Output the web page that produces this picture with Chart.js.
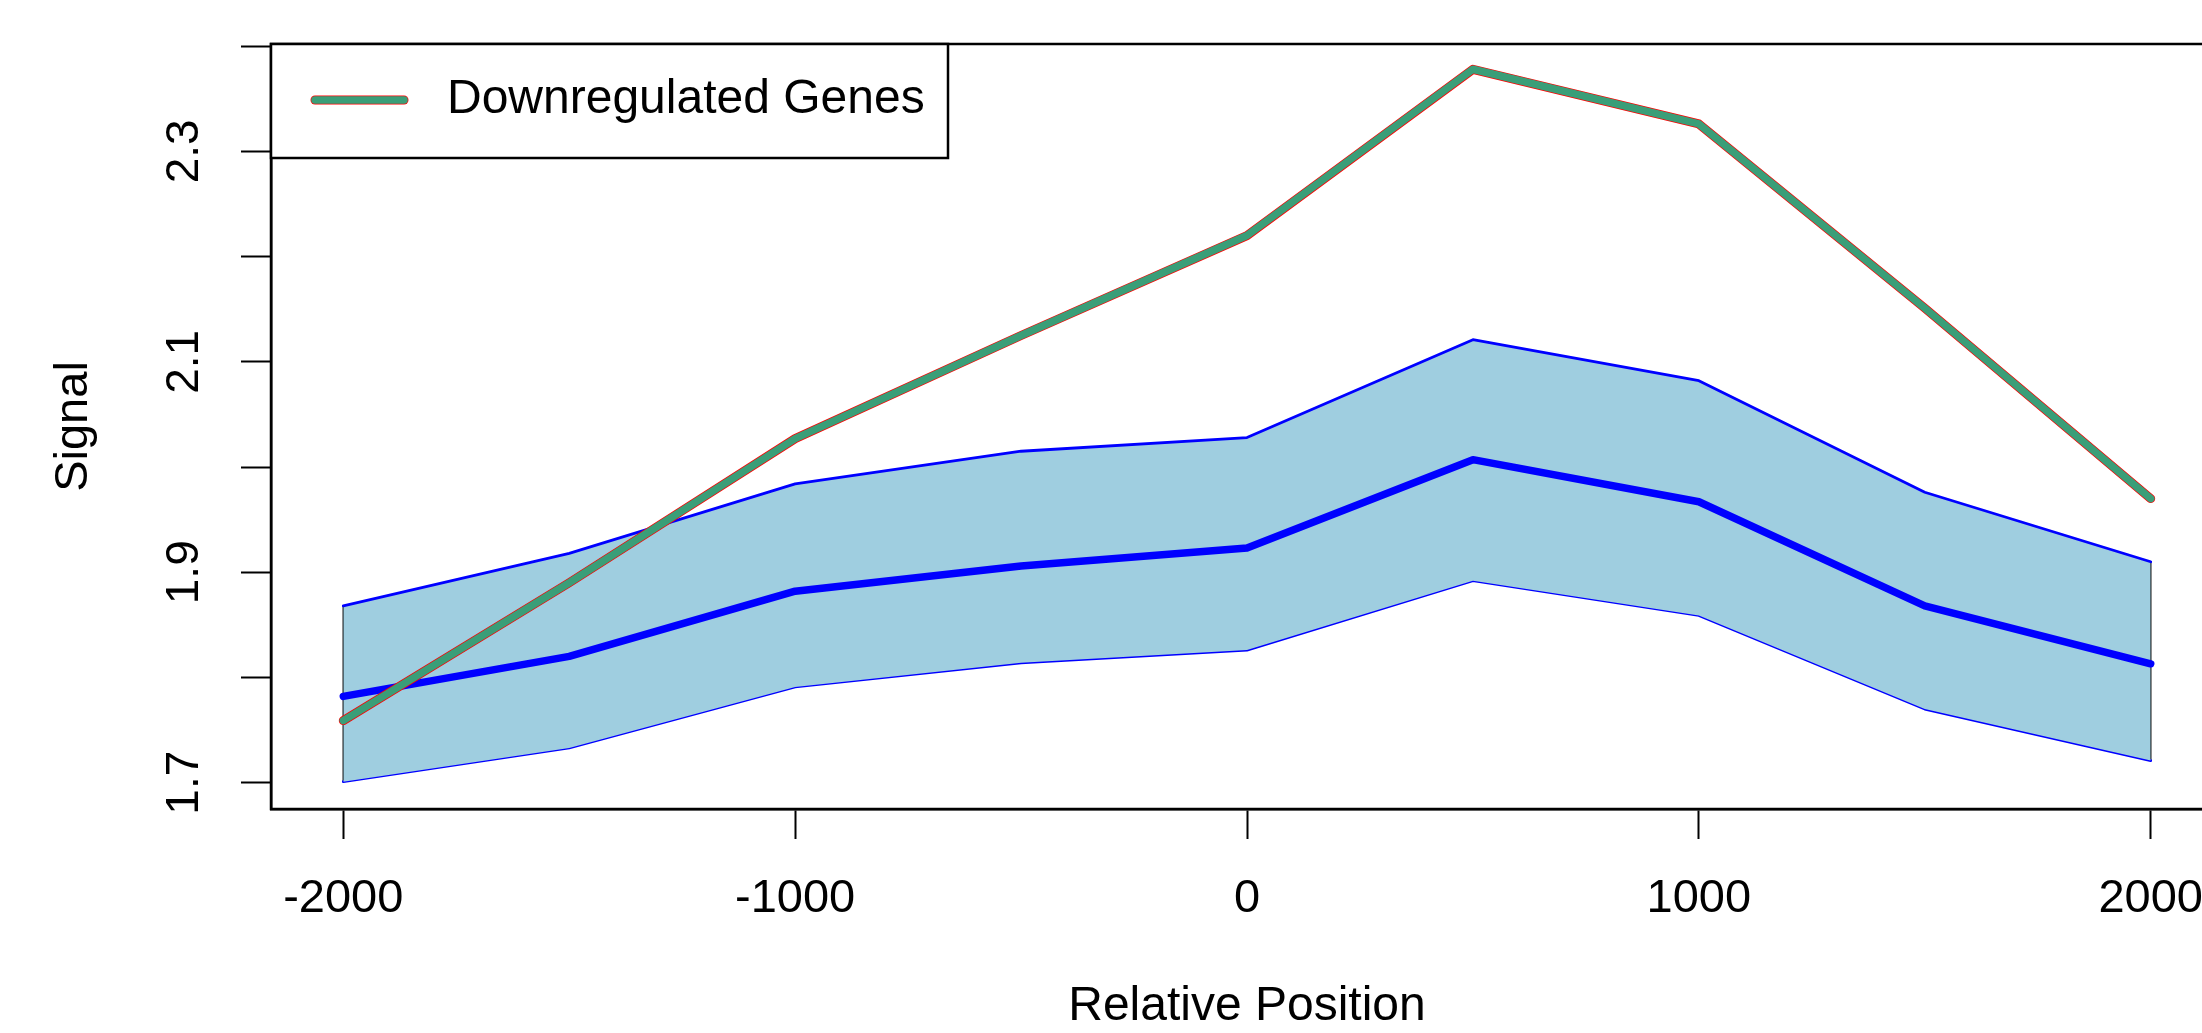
<!DOCTYPE html>
<html>
<head>
<meta charset="utf-8">
<script src="https://cdn.jsdelivr.net/npm/chart.js@4.4.1/dist/chart.umd.min.js"></script>
<style>
  html, body { margin: 0; padding: 0; background: #fff; overflow: hidden; }
  #wrap { width: 2240px; height: 1033px; }
</style>
</head>
<body>
<div id="wrap"><canvas id="signal_chart" width="2240" height="1033"></canvas></div>
<script>
// positions relative to the gene feature
var positions = [-2000, -1500, -1000, -500, 0, 500, 1000, 1500, 2000];
var downregulated = [1.759, 1.890, 2.027, 2.125, 2.220, 2.378, 2.326, 2.151, 1.970];
var meanSignal = [1.782, 1.820, 1.882, 1.906, 1.923, 2.007, 1.967, 1.868, 1.813];
var upperBand = [1.868, 1.918, 1.984, 2.015, 2.028, 2.121, 2.082, 1.976, 1.910];
var lowerBand = [1.701, 1.733, 1.791, 1.814, 1.826, 1.892, 1.859, 1.770, 1.721];

var xTickValues = [-2000, -1000, 0, 1000, 2000];
var yTickValues = [1.7, 1.8, 1.9, 2.0, 2.1, 2.2, 2.3, 2.4];
var yTickLabels = ['1.7', '1.9', '2.1', '2.3'];

var GREEN = '#3a9e78';
var BAND = '#9fcee0';

function pts(arr) {
	return positions.map(function (p, i) { return {x: p, y: arr[i]}; });
}
function edge(i) {
	return [{x: positions[i], y: lowerBand[i]}, {x: positions[i], y: upperBand[i]}];
}
function noPad(s) {
	s.paddingTop = 0; s.paddingBottom = 0;
	s.paddingLeft = 0; s.paddingRight = 0;
}

Chart.defaults.font.family = "'Liberation Sans', Arial, sans-serif";
Chart.defaults.color = '#000';

// R style frame and legend box
var frameAndLegend = {
	id: 'frameAndLegend',
	afterDraw: function (chart) {
		var ctx = chart.ctx, a = chart.chartArea;
		var ds = chart.data.datasets[0];
		ctx.save();
		ctx.strokeStyle = '#000';
		ctx.lineWidth = 2.5;
		ctx.strokeRect(a.left, a.top, a.right - a.left, a.bottom - a.top);

		ctx.fillStyle = '#fff';
		ctx.fillRect(a.left, a.top, 677, 114);
		ctx.strokeRect(a.left, a.top, 677, 114);

		var ly = a.top + 56;
		ctx.lineCap = 'round';
		ctx.beginPath();
		ctx.moveTo(a.left + 44, ly);
		ctx.lineTo(a.left + 133, ly);
		ctx.strokeStyle = 'red';
		ctx.lineWidth = 9;
		ctx.stroke();
		ctx.strokeStyle = GREEN;
		ctx.lineWidth = 7.5;
		ctx.stroke();

		ctx.fillStyle = '#000';
		ctx.font = "48px 'Liberation Sans', Arial, sans-serif";
		ctx.textBaseline = 'middle';
		ctx.textAlign = 'left';
		ctx.fillText(ds.label, a.left + 176, ly);
		ctx.restore();
	}
};

var config = {
	type: 'line',
	data: {
		datasets: [{
			label: 'Downregulated Genes',
			data: pts(downregulated),
			borderColor: GREEN,
			borderWidth: 7.5,
			order: 0
		}, {
			label: 'outline',
			data: pts(downregulated),
			borderColor: 'red',
			borderWidth: 9,
			order: 1
		}, {
			label: 'Mean',
			data: pts(meanSignal),
			borderColor: '#0000ff',
			borderWidth: 7.5,
			order: 2
		}, {
			label: 'Upper',
			data: pts(upperBand),
			borderColor: '#0000ff',
			borderWidth: 2.8,
			backgroundColor: BAND,
			fill: '+1',
			order: 3
		}, {
			label: 'Lower',
			data: pts(lowerBand),
			borderColor: '#0000ff',
			borderWidth: 2.8,
			order: 3
		}, {
			label: 'left edge',
			data: edge(0),
			borderColor: '#000',
			borderWidth: 1.5,
			order: 4
		}, {
			label: 'right edge',
			data: edge(positions.length - 1),
			borderColor: '#000',
			borderWidth: 1.5,
			order: 4
		}]
	},
	options: {
		responsive: false,
		animation: false,
		events: [],
		elements: {
			point: { radius: 0 },
			line: { tension: 0, borderJoinStyle: 'round', borderCapStyle: 'round' }
		},
		layout: {
			padding: { left: 0, right: 17, top: 44, bottom: 0 }
		},
		plugins: {
			legend: { display: false },
			tooltip: { enabled: false }
		},
		scales: {
			x: {
				type: 'linear',
				min: -2160,
				max: 2160,
				afterBuildTicks: function (s) { s.ticks = xTickValues.map(function (v) { return {value: v}; }); },
				afterFit: function (s) { s.height = 224; noPad(s); },
				grid: { drawOnChartArea: false, tickLength: 30, tickColor: '#000', tickWidth: 2 },
				border: { display: true, color: '#000', width: 2.5 },
				ticks: {
					font: { size: 47 },
					padding: 32,
					maxRotation: 0,
					color: '#000',
					callback: function (v) { return String(v); }
				},
				title: { display: true, text: 'Relative Position', font: { size: 48, lineHeight: 1 }, padding: { top: 0, bottom: 2 } }
			},
			y: {
				min: 1.675,
				max: 2.402,
				afterBuildTicks: function (s) { s.ticks = yTickValues.map(function (v) { return {value: v}; }); },
				afterFit: function (s) { s.width = 271; noPad(s); },
				grid: { drawOnChartArea: false, tickLength: 30, tickColor: '#000', tickWidth: 2 },
				border: { display: true, color: '#000', width: 2.5 },
				ticks: {
					font: { size: 46 },
					padding: 24,
					minRotation: 90,
					maxRotation: 90,
					crossAlign: 'center',
					color: '#000',
					callback: function (v) {
						var t = Number(v).toFixed(1);
						return yTickLabels.indexOf(t) >= 0 ? t : '';
					}
				},
				title: { display: true, text: 'Signal', font: { size: 47, lineHeight: 1 }, padding: { top: 51, bottom: 0 } }
			}
		}
	},
	plugins: [frameAndLegend]
};

var ctx = document.getElementById('signal_chart');
var chart = new Chart(ctx, config);
</script>
</body>
</html>
